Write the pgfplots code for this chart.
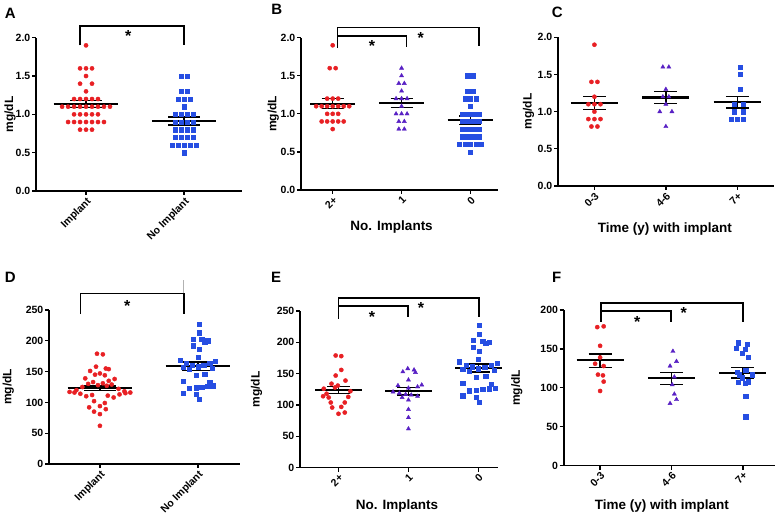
\documentclass[border=0pt]{standalone}
\usepackage{pgfplots}
\usepackage{pgfplotstable}
\pgfplotsset{compat=1.18}
\usepackage{fontspec}
\setmainfont{Liberation Sans}
\definecolor{cred}{RGB}{232,32,36}
\definecolor{cblue}{RGB}{38,78,226}
\definecolor{cpurp}{RGB}{88,32,196}

% ---------- data (x offset / value) ----------
\pgfplotstableread{
x y
0 1.9
-0.061 1.6
0 1.6
0.061 1.6
0 1.5
-0.061 1.4
0.061 1.4
0 1.3
-0.122 1.2
-0.061 1.2
0 1.2
0.061 1.2
0.122 1.2
-0.244 1.1
-0.183 1.1
-0.122 1.1
-0.061 1.1
0 1.1
0.061 1.1
0.122 1.1
0.183 1.1
0.244 1.1
-0.122 1.0
-0.061 1.0
0 1.0
0.061 1.0
0.122 1.0
-0.183 0.9
-0.122 0.9
-0.061 0.9
0 0.9
0.061 0.9
0.122 0.9
0.183 0.9
-0.061 0.8
0 0.8
0.061 0.8
}\AImp
\pgfplotstableread{
x y
-0.031 1.5
0.031 1.5
-0.031 1.3
0.031 1.3
-0.061 1.2
0 1.2
0.061 1.2
0 1.1
-0.092 1.0
-0.031 1.0
0.031 1.0
0.092 1.0
-0.092 0.9
-0.031 0.9
0.031 0.9
0.092 0.9
-0.092 0.8
-0.031 0.8
0.031 0.8
0.092 0.8
-0.092 0.7
-0.031 0.7
0.031 0.7
0.092 0.7
-0.122 0.6
-0.061 0.6
0 0.6
0.061 0.6
0.122 0.6
0 0.5
}\ANo
\pgfplotstableread{
x y
0 1.9
-0.043 1.6
0.043 1.6
-0.08 1.2
0 1.2
0.08 1.2
-0.24 1.1
-0.16 1.1
-0.08 1.1
0 1.1
0.08 1.1
0.16 1.1
0.24 1.1
-0.08 1.0
0 1.0
0.08 1.0
-0.16 0.9
-0.08 0.9
0 0.9
0.08 0.9
0.16 0.9
0 0.8
}\BTwo
\pgfplotstableread{
x y
0 1.6
0 1.5
-0.04 1.4
0.04 1.4
0 1.3
-0.08 1.2
0 1.2
0.08 1.2
0 1.1
-0.08 1.0
0 1.0
0.08 1.0
-0.04 0.9
0.04 0.9
-0.04 0.8
0.04 0.8
}\BOne
\pgfplotstableread{
x y
0 1.9
-0.042 1.4
0.042 1.4
0 1.2
-0.085 1.1
0 1.1
0.085 1.1
0 1.0
-0.085 0.9
0 0.9
0.085 0.9
-0.042 0.8
0.042 0.8
}\CA
\pgfplotstableread{
x y
-0.042 1.6
0.042 1.6
0 1.3
-0.042 1.2
0.042 1.2
0 1.1
-0.085 1.0
0.085 1.0
0 0.8
}\CB
\pgfplotstableread{
x y
0.042 1.6
0.042 1.5
0.042 1.3
-0.042 1.1
0.085 1.1
-0.042 1.0
0.085 1.0
-0.085 0.9
0 0.9
0.085 0.9
}\CC
\pgfplotstableread{
x y
-0.03 179
0.03 178
-0.04 158
0.06 155
0.09 154
-0.10 151
0.00 147
-0.05 145
0.05 144
-0.15 139
0.15 138
0.09 135
-0.07 133
0.03 131
-0.12 130
0.12 129
-0.02 128
0.07 127
-0.18 125
0.19 122
-0.24 120
0.25 118
-0.31 117
0.31 116
-0.26 116
0.26 115
-0.20 114
0.20 113
-0.08 112
0.08 111
-0.14 110
0.14 108
-0.06 102
0.05 99
0.00 94
-0.11 92
0.06 89
-0.06 85
0.00 81
0.00 62
}\DImp
\pgfplotstableread{
x y
0.01 227
0.01 213
-0.05 203
0.04 202
0.10 200
0.07 198
-0.05 192
0.01 186
0.00 173
-0.18 169
0.18 167
-0.12 164
0.12 163
-0.06 161
0.06 160
0.00 158
-0.15 157
0.15 155
-0.09 154
0.07 146
-0.02 144
-0.15 135
0.12 133
0.16 127
0.10 126
0.04 125
-0.02 124
-0.09 123
-0.15 115
-0.02 113
0.01 105
}\DNo
\pgfplotstableread{
x y
-0.04 179
0.04 178
0.04 156
-0.04 147
0.10 139
-0.10 134
-0.01 131
-0.05 128
-0.21 126
0.17 122
-0.17 118
-0.22 114
0.14 113
-0.14 112
-0.11 104
0.09 104
0.04 97
-0.09 96
0.09 88
0.00 86
}\ETwo
\pgfplotstableread{
x y
-0.01 158
0.08 156
-0.08 153
0.10 152
0.00 140
0.19 132
-0.15 131
0.13 129
0.00 127
-0.22 121
-0.13 119
-0.04 117
0.04 116
0.13 114
-0.09 112
0.00 108
0.00 93
0.00 80
0.00 62
}\EOne
\pgfplotstableread{
x y
0.05 179
-0.04 178
0.00 154
0.00 139
-0.07 131
0.05 128
-0.03 117
0.04 116
0.05 108
0.00 96
}\FA
\pgfplotstableread{
x y
0.02 147
0.07 134
-0.02 128
0.04 114
0.01 104
0.04 92
0.07 85
-0.02 80
}\FB
\pgfplotstableread{
x y
-0.06 158
0.06 156
-0.09 151
0.03 150
-0.01 144
0.08 139
0.04 123
-0.08 120
-0.05 117
0.13 117
-0.01 113
0.08 108
-0.06 107
0.03 106
0.04 89
0.04 63
}\FC

% mean and SEM lines: center, mean, low, high
\newcommand{\ms}[4]{%
  \pgfmathsetmacro\msml{#1-0.33}\pgfmathsetmacro\msmr{#1+0.33}%
  \pgfmathsetmacro\mssl{#1-0.16}\pgfmathsetmacro\mssr{#1+0.16}%
  \addplot[black, line width=2.2pt] coordinates {(\msml,#2) (\msmr,#2)};
  \addplot[black, line width=1.3pt] coordinates {(\mssl,#4) (\mssr,#4)};
  \addplot[black, line width=1.3pt] coordinates {(\mssl,#3) (\mssr,#3)};
  \addplot[black, line width=1.3pt] coordinates {(#1,#3) (#1,#4)};
}

\tikzset{
  star/.style={font=\fontsize{16}{16}\selectfont\bfseries, yshift=-3pt},
  brk/.style={line width=1.6pt, black},
}
\pgfplotsset{
  panel/.style={
    scale only axis, clip=false,
    axis x line*=bottom, axis y line*=left,
    axis line style={line width=1.6pt, -},
    every tick/.style={line width=1.3pt, black},
    tick align=outside, major tick length=4pt,
    /pgf/number format/assume math mode=true,
    yticklabel style={font=\fontsize{10.5}{12}\selectfont\bfseries, inner sep=1.5pt},
    xticklabel style={font=\fontsize{10.5}{12}\selectfont\bfseries, rotate=45, anchor=north east, inner sep=1pt},
    ylabel={mg/dL},
    ylabel style={font=\fontsize{12}{14}\selectfont\bfseries, anchor=center},
    xlabel style={font=\fontsize{13.5}{15}\selectfont\bfseries, anchor=center},
  },
  small/.style={ymin=0, ymax=2, ytick={0,0.5,1,1.5,2},
    yticklabel style={/pgf/number format/.cd, fixed, fixed zerofill, precision=1}},
  sred/.style={only marks, mark=*, mark size=2.1pt, color=cred},
  sblue/.style={only marks, mark=square*, mark size=2.1pt, color=cblue},
  spurp/.style={only marks, mark=triangle*, mark size=2.4pt, color=cpurp},
}

\begin{document}
\begin{tikzpicture}
\useasboundingbox (0,0) rectangle (777pt,522pt);

% ---------------- A ----------------
\begin{axis}[panel, small, at={(36pt,331pt)}, anchor=south west,
  width=206pt, height=153.3pt, xmin=-0.51, xmax=1.59,
  xtick={0,1}, xticklabels={Implant, No Implant},
  ylabel style={at={(axis description cs:-0.126,0.5)}}]
\addplot[sred] table[x=x,y=y] {\AImp};
\addplot[sblue] table[x expr=\thisrow{x}+1,y=y] {\ANo};
\ms{0}{1.13}{1.09}{1.18}
\ms{1}{0.913}{0.86}{0.965}
\draw[brk] (axis cs:-0.06,1.9) -- (axis cs:-0.06,2.15) -- (axis cs:1,2.15) -- (axis cs:1,1.9);
\node[star] at (axis cs:0.43,2.06) {*};
\end{axis}

% ---------------- B ----------------
\begin{axis}[panel, small, at={(301pt,332pt)}, anchor=south west,
  width=197pt, height=152.3pt, xmin=-0.46, xmax=2.4,
  xtick={0,1,2}, xticklabels={2+, 1, 0},
  xlabel={No. Implants},
  xlabel style={at={(axis description cs:0.46,-0.245)}},
  ylabel style={at={(axis description cs:-0.141,0.5)}}]
\addplot[sred] table[x=x,y=y] {\BTwo};
\addplot[spurp] table[x expr=\thisrow{x}+1,y=y] {\BOne};
\addplot[sblue] table[x expr=1.3*\thisrow{x}+2,y=y] {\ANo};
\ms{0}{1.13}{1.07}{1.2}
\ms{1}{1.14}{1.08}{1.2}
\ms{2}{0.915}{0.86}{0.97}
\draw[brk] (axis cs:0.07,1.87) -- (axis cs:0.07,2.135) -- (axis cs:2.12,2.135) -- (axis cs:2.12,1.89);
\draw[brk] (axis cs:0.07,2.02) -- (axis cs:1.07,2.02) -- (axis cs:1.07,1.88);
\node[star] at (axis cs:0.57,1.93) {*};
\node[star] at (axis cs:1.28,2.04) {*};
\end{axis}

% ---------------- C ----------------
\begin{axis}[panel, small, at={(558pt,336pt)}, anchor=south west,
  width=215.7pt, height=148.7pt, xmin=-0.51, xmax=2.51,
  xtick={0,1,2}, xticklabels={0-3, 4-6, 7+},
  xlabel={Time (y) with implant},
  xlabel style={at={(axis description cs:0.495,-0.29)}},
  ylabel style={at={(axis description cs:-0.136,0.5)}}]
\addplot[sred] table[x=x,y=y] {\CA};
\addplot[spurp] table[x expr=\thisrow{x}+1,y=y] {\CB};
\addplot[sblue] table[x expr=\thisrow{x}+2,y=y] {\CC};
\ms{0}{1.117}{1.03}{1.2}
\ms{1}{1.19}{1.11}{1.27}
\ms{2}{1.13}{1.05}{1.2}
\end{axis}

% ---------------- D ----------------
\begin{axis}[panel, at={(49pt,58pt)}, anchor=south west,
  width=191pt, height=154pt, xmin=-0.52, xmax=1.43,
  ymin=0, ymax=250, ytick={0,50,100,150,200,250},
  xtick={0,1}, xticklabels={Implant, No Implant},
  ylabel style={at={(axis description cs:-0.213,0.5)}}]
\addplot[sred] table[x=x,y=y] {\DImp};
\addplot[sblue] table[x expr=\thisrow{x}+1,y=y] {\DNo};
\ms{0}{122.8}{119}{126.6}
\ms{1}{159}{152}{165.6}
\draw[brk] (axis cs:-0.2,243.5) -- (axis cs:-0.2,277) -- (axis cs:0.86,277) -- (axis cs:0.86,243.5);
\draw[gray!60, line width=0.4pt] (axis cs:0.85,277) -- (axis cs:0.85,299);
\node[star] at (axis cs:0.28,262) {*};
\end{axis}

% ---------------- E ----------------
\begin{axis}[panel, at={(300pt,54.3pt)}, anchor=south west,
  width=198pt, height=156.7pt, xmin=-0.55, xmax=2.28,
  ymin=0, ymax=250, ytick={0,50,100,150,200,250},
  xtick={0,1,2}, xticklabels={2+, 1, 0},
  xlabel={No. Implants},
  xlabel style={at={(axis description cs:0.49,-0.244)}},
  ylabel style={at={(axis description cs:-0.219,0.5)}}]
\addplot[sred] table[x=x,y=y] {\ETwo};
\addplot[spurp] table[x expr=\thisrow{x}+1,y=y] {\EOne};
\addplot[sblue] table[x expr=1.5*\thisrow{x}+2,y=y] {\DNo};
\ms{0}{124}{118.6}{129}
\ms{1}{121.8}{116}{127.7}
\ms{2}{159}{152.7}{165.4}
\draw[brk] (axis cs:0,238) -- (axis cs:0,271) -- (axis cs:2.01,271) -- (axis cs:2.01,241);
\draw[brk] (axis cs:0,258) -- (axis cs:0.99,258) -- (axis cs:0.99,241);
\node[star] at (axis cs:0.48,246) {*};
\node[star] at (axis cs:1.18,260) {*};
\end{axis}

% ---------------- F ----------------
\begin{axis}[panel, at={(563.7pt,56.3pt)}, anchor=south west,
  width=211.3pt, height=155.7pt, xmin=-0.51, xmax=2.45,
  ymin=0, ymax=200, ytick={0,50,100,150,200},
  xtick={0,1,2}, xticklabels={0-3, 4-6, 7+},
  xlabel={Time (y) with implant},
  xlabel style={at={(axis description cs:0.465,-0.26)}},
  ylabel style={at={(axis description cs:-0.222,0.5)}}]
\addplot[sred] table[x=x,y=y] {\FA};
\addplot[spurp] table[x expr=\thisrow{x}+1,y=y] {\FB};
\addplot[sblue] table[x expr=\thisrow{x}+2,y=y] {\FC};
\ms{0}{135.8}{126}{143.5}
\ms{1}{112.2}{104}{119.5}
\ms{2}{119.5}{112.6}{126.3}
\draw[brk] (axis cs:0.01,185) -- (axis cs:0.01,209) -- (axis cs:2,209) -- (axis cs:2,185);
\draw[brk] (axis cs:0.01,198.7) -- (axis cs:0.99,198.7) -- (axis cs:0.99,185);
\node[star] at (axis cs:0.52,188) {*};
\node[star] at (axis cs:1.17,200) {*};
\end{axis}

% panel letters
\node[font=\fontsize{15}{17}\selectfont\bfseries] at (10.3pt,508.3pt) {A};
\node[font=\fontsize{15}{17}\selectfont\bfseries] at (276.7pt,512.7pt) {B};
\node[font=\fontsize{15}{17}\selectfont\bfseries] at (557.3pt,509.7pt) {C};
\node[font=\fontsize{15}{17}\selectfont\bfseries] at (10.3pt,244.7pt) {D};
\node[font=\fontsize{15}{17}\selectfont\bfseries] at (276.2pt,244.7pt) {E};
\node[font=\fontsize{15}{17}\selectfont\bfseries] at (556.7pt,244.7pt) {F};
\end{tikzpicture}
\end{document}
